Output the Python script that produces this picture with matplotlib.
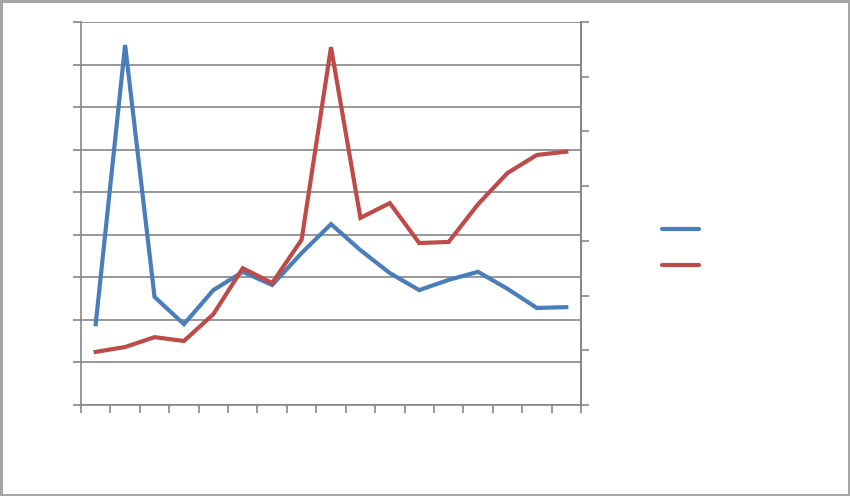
import matplotlib.pyplot as plt
from matplotlib.lines import Line2D
import numpy as np

# valorile (17 puncte)
blue = [1.90, 8.46, 2.54, 1.90, 2.70, 3.13, 2.82, 3.57, 4.25, 3.64,
        3.10, 2.70, 2.94, 3.13, 2.73, 2.28, 2.30]
red = [0.97, 1.06, 1.24, 1.17, 1.66, 2.50, 2.23, 3.02, 6.54, 3.42,
       3.69, 2.96, 2.98, 3.67, 4.24, 4.57, 4.63]

c_blue = '#4A7EBB'
c_red = '#BE4B48'
c_axis = '#868686'

x = np.arange(len(blue)) + 0.5

fig = plt.figure(figsize=(8.5, 4.96), dpi=100)
fig.patch.set_edgecolor('#a6a6a6')
fig.patch.set_linewidth(2.5)

ax = fig.add_axes([81/850, 1 - 405/496, 500/850, 383/496])
ax2 = ax.twinx()

ax.plot(x, blue, color=c_blue, lw=3, solid_joinstyle='miter')
ax2.plot(x, red, color=c_red, lw=3, solid_joinstyle='miter')

ax.set_xlim(0, len(blue))
ax.set_ylim(0, 9)
ax2.set_ylim(0, 7)
ax.set_xticks(np.arange(len(blue) + 1))
ax.set_yticks(np.arange(10))
ax2.set_yticks(np.arange(8))
ax.grid(axis='y', color=c_axis, lw=1.2)
ax.set_axisbelow(True)

for a in (ax, ax2):
    a.tick_params(colors=c_axis, length=6, width=1.2,
                  labelleft=False, labelright=False, labelbottom=False)
    for s in a.spines.values():
        s.set_color(c_axis)
        s.set_linewidth(1.2)
    a.spines['top'].set_visible(False)
ax2.spines['left'].set_visible(False)
ax2.spines['bottom'].set_visible(False)

# legenda fara text
handles = [Line2D([], [], color=c_blue, lw=3, solid_capstyle='round'),
           Line2D([], [], color=c_red, lw=3, solid_capstyle='round')]
fig.legend(handles, ['', ''], loc='center left',
           bbox_to_anchor=(649/850, 1 - 248/496), frameon=False,
           handlelength=2.7, labelspacing=1.55, fontsize=10)

fig.savefig('out.png', dpi=100)
